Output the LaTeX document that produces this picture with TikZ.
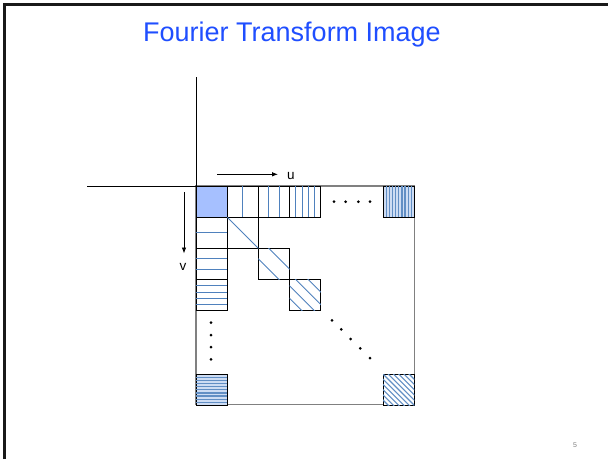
\documentclass[tikz,border=0pt]{standalone}
\usepackage{fontspec}
\setmainfont{Liberation Sans}
\usetikzlibrary{arrows.meta}
\definecolor{titleblue}{RGB}{31,78,255}
\definecolor{hatchblue}{RGB}{79,129,189}
\definecolor{paleblue}{RGB}{205,220,243}
\definecolor{solidblue}{RGB}{166,192,255}
\definecolor{edgegray}{RGB}{128,128,128}
% stripe helpers: x, y (top-left corner), number of lines, line style
\newcommand\vhatch[4]{\foreach \k in {1,...,#3}
  \draw[#4] ({#1+31.2*\k/(#3+1)},#2) -- ++(0,31.2);}
\newcommand\hhatch[4]{\foreach \k in {1,...,#3}
  \draw[#4] (#1,{#2+31.2*\k/(#3+1)}) -- ++(31.2,0);}
\newcommand\dhatch[4]{\begin{scope}
  \clip (#1,#2) rectangle ++(31.2,31.2);
  \foreach \k in {1,...,#3}
    \draw[#4] ({#1-62.4+62.4*\k/(#3+1)},{#2-31.2}) -- ++(93.6,93.6);
  \end{scope}}
\begin{document}
\begin{tikzpicture}[x=1pt,y=-1pt,
  cell/.style={draw=black,line width=0.9pt,minimum size=31.2pt,
    inner sep=0pt,outer sep=0pt,anchor=north west},
  hatch/.style={hatchblue,line width=0.9pt},
  dense/.style={hatchblue!90,line width=1.2pt},
  axis/.style={black,line width=0.8pt},
  axarrow/.style={black,line width=0.8pt,-{Latex[length=6pt,width=4.5pt]}},
  dot/.style={black},
  lbl/.style={font=\fontsize{13.5}{15}\selectfont,inner sep=0pt}]
\useasboundingbox (0,0) rectangle (608,459);

% slide frame
\draw[line width=2.6pt,black!90] (4.7,459) -- (4.7,4.7) -- (608,4.7);

% title and page number
\node[anchor=base,font=\fontsize{27}{30}\selectfont,text=titleblue] (title)
  at (292,41.7) {Fourier Transform Image};
\node[font=\fontsize{7}{8}\selectfont,text=gray] (page) at (575,445) {5};

% outer square of the transform
\node[draw=edgegray,line width=1.1pt,minimum size=218.4pt,inner sep=0pt,
  outer sep=0pt,anchor=north west] (frame) at (196,186) {};

% axes
\coordinate (hx) at (87,186);
\coordinate (vy) at (196,77);
\draw[axis] (hx) -- (frame.north west);
\draw[axis] (vy) -- (frame.north west);

% direction arrows
\coordinate (ua) at (217,174.3);
\coordinate (ub) at (278,174.3);
\coordinate (va) at (184,192);
\coordinate (vb) at (184,253.5);
\draw[axarrow] (ua) -- (ub);
\draw[axarrow] (va) -- (vb);
\node[lbl] (ulab) at (291,176) {u};
\node[lbl] (vlab) at (183,267) {v};

% corner cells
\node[cell,fill=solidblue] (tl) at (196,186) {};
\node[cell,fill=paleblue] (tr) at (383.2,186) {};
\node[cell,fill=paleblue] (bl) at (196,374.2) {};
\node[cell,fill=white] (br) at (383.2,374.2) {};
\vhatch{383.2}{186}{9}{dense}
\hhatch{196}{374.2}{9}{dense}
\dhatch{383.2}{374.2}{11}{hatchblue!90,line width=1.1pt}

% first row
\node[cell] (r1) at (227.2,186) {};
\node[cell] (r2) at (258.4,186) {};
\node[cell] (r3) at (289.6,186) {};
\vhatch{227.2}{186}{1}{hatch}
\vhatch{258.4}{186}{2}{hatch}
\vhatch{289.6}{186}{4}{hatch}

% first column
\node[cell] (c1) at (196,217.2) {};
\node[cell] (c2) at (196,248.4) {};
\node[cell] (c3) at (196,279.6) {};
\hhatch{196}{217.2}{1}{hatch}
\hhatch{196}{248.4}{2}{hatch}
\hhatch{196}{279.6}{4}{hatch}

% diagonal
\node[cell] (d1) at (227.2,217.2) {};
\node[cell] (d2) at (258.4,248.4) {};
\node[cell] (d3) at (289.6,279.6) {};
\dhatch{227.2}{217.2}{1}{hatch}
\dhatch{258.4}{248.4}{2}{hatch}
\dhatch{289.6}{279.6}{4}{hatch}

% ellipsis dots
\foreach \x in {334,345.7,358.3,370}
  \fill[dot] (\x,201.7) circle (1.5);
\foreach \y in {322.7,335,347,359.3}
  \fill[dot] (211,\y) circle (1.5);
\foreach \x/\y in {332/320.3,341.3/329.3,350.7/339,360.3/348.3,370/358}
  \fill[dot] (\x,\y) circle (1.5);
\end{tikzpicture}
\end{document}
